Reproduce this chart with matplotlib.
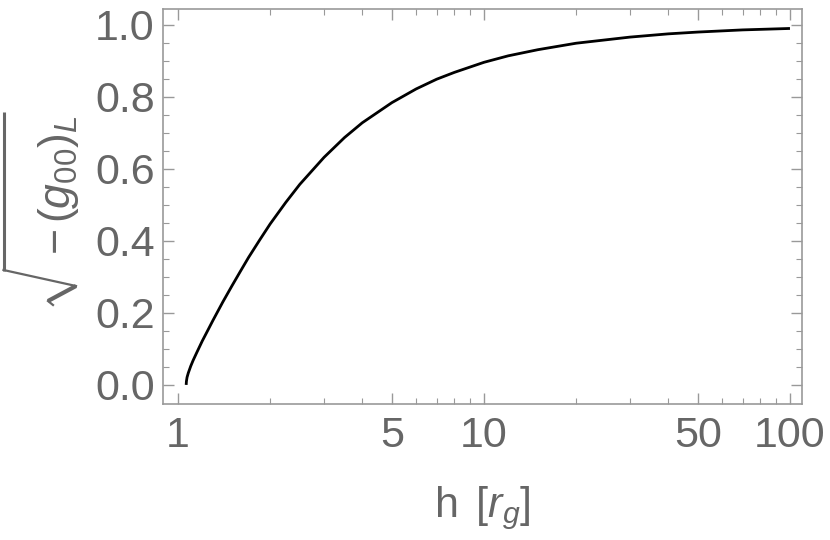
import matplotlib
matplotlib.use('Agg')
import matplotlib.pyplot as plt
from matplotlib.lines import Line2D
from matplotlib.ticker import FixedLocator, NullFormatter

# curve: height h [r_g] vs sqrt(-g00)
h = [1.063, 1.065, 1.07, 1.08, 1.1, 1.12, 1.15, 1.2, 1.25, 1.3, 1.4, 1.5, 1.6,
     1.7, 1.85, 2, 2.25, 2.5, 3, 3.5, 4, 5, 6, 7, 8, 10, 12, 15, 20, 30, 40,
     50, 70, 100]
g = [0.0, 0.010, 0.021, 0.033, 0.052, 0.068, 0.089, 0.122, 0.151, 0.179,
     0.230, 0.275, 0.316, 0.354, 0.403, 0.447, 0.507, 0.557, 0.632, 0.687,
     0.728, 0.784, 0.822, 0.849, 0.868, 0.896, 0.914, 0.931, 0.949, 0.966,
     0.975, 0.980, 0.986, 0.990]

x_major = [1, 5, 10, 50, 100]
x_minor = [2, 3, 4, 6, 7, 8, 9, 20, 30, 40, 60, 70, 80, 90]
y_major = [0.0, 0.2, 0.4, 0.6, 0.8, 1.0]
y_minor = [0.05, 0.1, 0.15, 0.25, 0.3, 0.35, 0.45, 0.5, 0.55, 0.65, 0.7, 0.75,
           0.85, 0.9, 0.95]

plt.rcParams['font.family'] = ['Liberation Sans', 'DejaVu Sans']
plt.rcParams['mathtext.fontset'] = 'custom'
plt.rcParams['mathtext.rm'] = 'Liberation Sans'
plt.rcParams['mathtext.it'] = 'Liberation Sans:italic'

grey = '#666666'
frame = '#999999'
W, H = 830, 540

fig = plt.figure(figsize=(8.3, 5.4), dpi=100)
ax = fig.add_axes([0.1964, 0.2519, 0.7699, 0.7314])

ax.plot(h, g, color='black', lw=2.0, solid_capstyle='butt')

ax.set_xscale('log')
ax.set_xlim(0.893, 109.5)
ax.set_ylim(-0.053, 1.044)

ax.xaxis.set_major_locator(FixedLocator(x_major))
ax.xaxis.set_minor_locator(FixedLocator(x_minor))
ax.xaxis.set_minor_formatter(NullFormatter())
ax.set_xticklabels(['1', '5', '10', '50', '100'])
ax.yaxis.set_major_locator(FixedLocator(y_major))
ax.yaxis.set_minor_locator(FixedLocator(y_minor))
ax.set_yticklabels(['0.0', '0.2', '0.4', '0.6', '0.8', '1.0'])

for s in ax.spines.values():
    s.set_color(frame)
    s.set_linewidth(1.2)

ax.tick_params(which='both', direction='in', top=True, right=True,
               color=frame, labelcolor=grey, labelsize=31)
ax.tick_params(which='major', length=8, width=1.0)
ax.tick_params(which='minor', length=4.5, width=0.8)
ax.tick_params(axis='x', pad=9)
ax.tick_params(axis='y', pad=6)

ax.set_xlabel(r'h $\,$[$r_g$]', fontsize=31, color=grey, labelpad=20)

# y label: rotated text under a tall radical sign, Mathematica style
fig.text(58 / W, 1 - 185 / H, r'$-\,(g_{00})_L$', rotation=90,
         fontsize=32, color=grey, ha='center', va='center')


def px(xs, ys):
    return [x / W for x in xs], [1 - y / H for y in ys]


fig.add_artist(Line2D(*px([3.5, 3.5], [112, 271]), color=grey, lw=2.2,
                      transform=fig.transFigure, solid_capstyle='butt'))
fig.add_artist(Line2D(*px([3.5, 76], [270, 286]), color=grey, lw=1.6,
                      transform=fig.transFigure, solid_joinstyle='miter'))
fig.add_artist(Line2D(*px([76, 48], [286, 301]), color=grey, lw=3.0,
                      transform=fig.transFigure, solid_capstyle='butt'))
fig.add_artist(Line2D(*px([48, 53], [301, 305]), color=grey, lw=1.6,
                      transform=fig.transFigure))

fig.savefig('out.png', dpi=100)
